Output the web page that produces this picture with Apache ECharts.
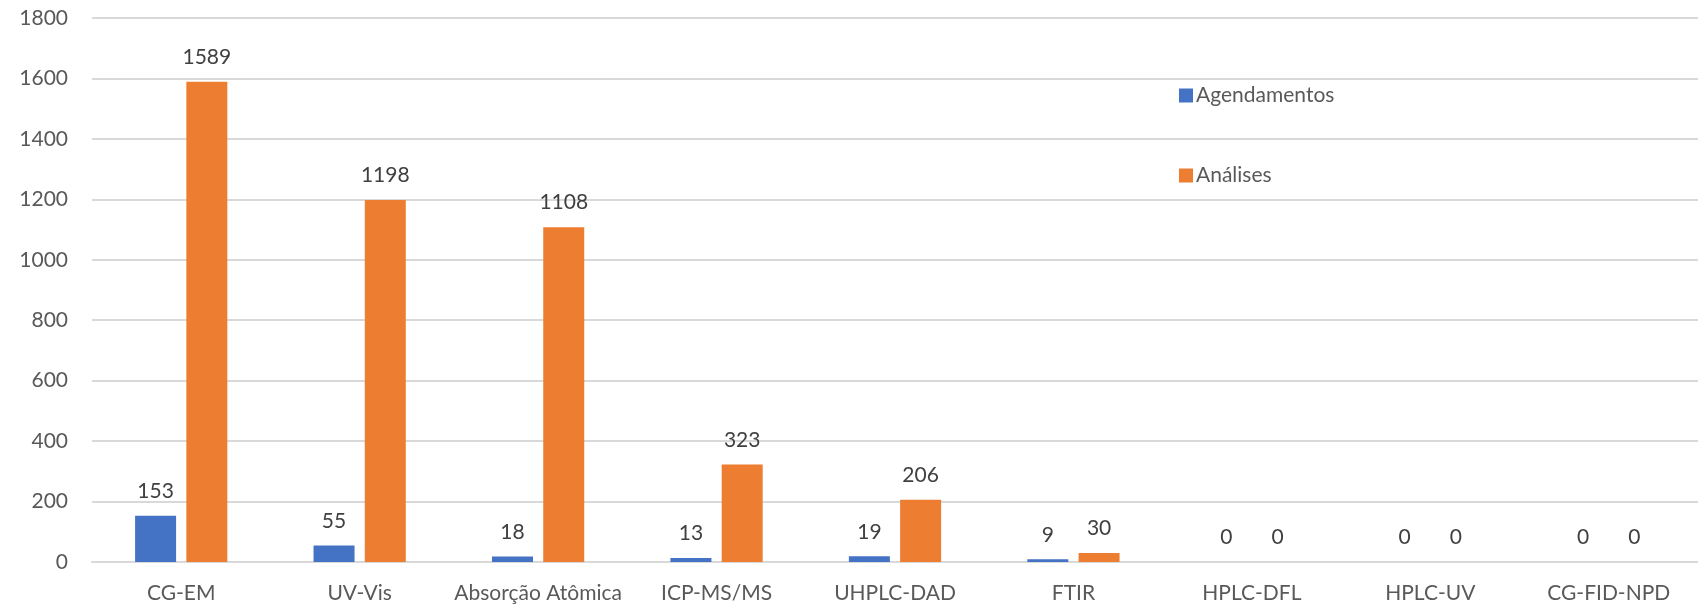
<!DOCTYPE html>
<html>
<head>
<meta charset="utf-8">
<script src="https://cdn.jsdelivr.net/npm/echarts@6/dist/echarts.min.js"></script>
<style>
  html, body { margin: 0; padding: 0; background: #fff; }
  #chart { width: 1698px; height: 606px; }
</style>
</head>
<body>
<div id="chart"></div>
<script>
const categories = ['CG-EM', 'UV-Vis', 'Absorção Atômica', 'ICP-MS/MS', 'UHPLC-DAD', 'FTIR', 'HPLC-DFL', 'HPLC-UV', 'CG-FID-NPD']
const agendamentos = [153, 55, 18, 13, 19, 9, 0, 0, 0]
const analises = [1589, 1198, 1108, 323, 206, 30, 0, 0, 0]

const font = 'Lato, "Open Sans", sans-serif'
const labelStyle = {
  show: true,
  position: 'top',
  distance: 14,
  color: '#404040',
  fontSize: 21,
  fontFamily: font
}

const chart = echarts.init(document.getElementById('chart'))
chart.setOption({
  animation: false,
  textStyle: { fontFamily: font },
  grid: { left: 92, right: 0, top: 18, bottom: 44 },
  legend: {
    orient: 'vertical',
    left: 1174,
    top: 80,
    itemWidth: 14,
    itemHeight: 14,
    itemGap: 59,
    icon: 'rect',
    textStyle: { color: '#595959', fontSize: 21, fontFamily: font, padding: [0, 0, 0, -2] }
  },
  xAxis: {
    type: 'category',
    data: categories,
    axisLine: { lineStyle: { color: '#d9d9d9', width: 2 } },
    axisTick: { show: false },
    axisLabel: { color: '#595959', fontSize: 21, margin: 21, fontFamily: font, interval: 0 }
  },
  yAxis: {
    type: 'value',
    min: 0,
    max: 1800,
    interval: 200,
    axisLine: { show: false },
    axisTick: { show: false },
    splitLine: { lineStyle: { color: '#d9d9d9', width: 2 } },
    axisLabel: { color: '#595959', fontSize: 21, margin: 24, fontFamily: font, formatter: v => String(v) }
  },
  series: [
    {
      name: 'Agendamentos',
      type: 'bar',
      data: agendamentos,
      barWidth: 41,
      barGap: '25%',
      itemStyle: { color: '#4472c4' },
      label: labelStyle
    },
    {
      name: 'Análises',
      type: 'bar',
      data: analises,
      barWidth: 41,
      itemStyle: { color: '#ed7d31' },
      label: labelStyle
    }
  ]
})
</script>
</body>
</html>
